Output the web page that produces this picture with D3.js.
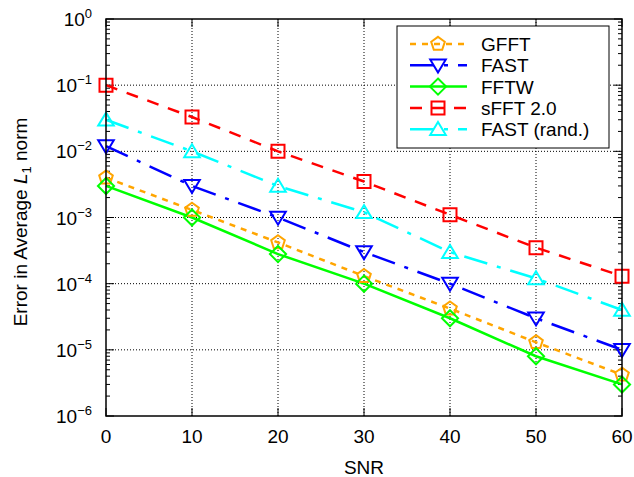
<!DOCTYPE html>
<html>
<head>
<meta charset="utf-8">
<script src="https://cdn.jsdelivr.net/npm/d3@7"></script>
<style>
  body { margin: 0; background: #fff; }
  svg { font-family: "Liberation Sans", sans-serif; }
</style>
</head>
<body>
<svg width="634" height="477"></svg>
<script>
const snr = [0, 10, 20, 30, 40, 50, 60];
const gfft = [4e-3, 1.3e-3, 4.2e-4, 1.3e-4, 4.2e-5, 1.3e-5, 4.2e-6];
const fast = [1.2e-2, 3e-3, 1e-3, 3e-4, 1e-4, 3e-5, 1e-5];
const fftw = [3e-3, 1e-3, 2.8e-4, 1e-4, 3e-5, 8e-6, 3e-6];
const sfft = [1e-1, 3.3e-2, 1e-2, 3.5e-3, 1.1e-3, 3.5e-4, 1.3e-4];
const fastRand = [3e-2, 1e-2, 3e-3, 1.2e-3, 3e-4, 1.2e-4, 4e-5];
const yExponents = [0, -1, -2, -3, -4, -5, -6];

const series = [
  { name: "GFFT", values: gfft, color: "#ffa500", dash: "6,6", marker: "pentagon" },
  { name: "FAST", values: fast, color: "#0000ff", dash: "24,10,4,10", marker: "down" },
  { name: "FFTW", values: fftw, color: "#00ff00", dash: null, marker: "diamond" },
  { name: "sFFT 2.0", values: sfft, color: "#ff0000", dash: "12,10", marker: "square" },
  { name: "FAST (rand.)", values: fastRand, color: "#00ffff", dash: "24,10,4,10", marker: "up" }
];

const svg = d3.select("svg");
const pLeft = 106, pRight = 622, pTop = 19, pBottom = 416;
const fs = 19;

const x = d3.scaleLinear().domain([0, 60]).range([pLeft, pRight]);
const y = d3.scaleLog().domain([1e-6, 1]).range([pBottom, pTop]);

// grid
const grid = svg.append("g").attr("stroke", "#000").attr("stroke-width", 1)
  .attr("stroke-dasharray", "1,2");
snr.slice(1, -1).forEach(v => {
  grid.append("line").attr("x1", x(v)).attr("x2", x(v)).attr("y1", pTop).attr("y2", pBottom);
});
yExponents.slice(1, -1).forEach(e => {
  grid.append("line").attr("x1", pLeft).attr("x2", pRight).attr("y1", y(Math.pow(10, e))).attr("y2", y(Math.pow(10, e)));
});

// ticks
const ticks = svg.append("g").attr("stroke", "#000").attr("stroke-width", 1);
snr.forEach(v => {
  ticks.append("line").attr("x1", x(v)).attr("x2", x(v)).attr("y1", pBottom).attr("y2", pBottom - 8);
  ticks.append("line").attr("x1", x(v)).attr("x2", x(v)).attr("y1", pTop).attr("y2", pTop + 8);
});
yExponents.forEach(e => {
  const yy = y(Math.pow(10, e));
  ticks.append("line").attr("x1", pLeft).attr("x2", pLeft + 8).attr("y1", yy).attr("y2", yy);
  ticks.append("line").attr("x1", pRight).attr("x2", pRight - 8).attr("y1", yy).attr("y2", yy);
  if (e > -6) {
    for (let m = 2; m < 10; m++) {
      const ym = y(m * Math.pow(10, e - 1));
      ticks.append("line").attr("x1", pLeft).attr("x2", pLeft + 4).attr("y1", ym).attr("y2", ym);
      ticks.append("line").attr("x1", pRight).attr("x2", pRight - 4).attr("y1", ym).attr("y2", ym);
    }
  }
});

// tick labels
svg.append("g").selectAll("text").data(snr).join("text")
  .attr("x", d => x(d)).attr("y", 443)
  .attr("text-anchor", "middle").attr("font-size", fs)
  .text(d => d);

const yl = svg.append("g").selectAll("text").data(yExponents).join("text")
  .attr("x", 92).attr("y", d => y(Math.pow(10, d)) + 7)
  .attr("text-anchor", "end").attr("font-size", fs);
yl.append("tspan").text("10");
yl.append("tspan").attr("dy", -8).attr("font-size", 13)
  .text(d => d === 0 ? "0" : "\u2212" + (-d));

// axis titles
svg.append("text").attr("x", (pLeft + pRight) / 2).attr("y", 474)
  .attr("text-anchor", "middle").attr("font-size", fs).text("SNR");

const yt = svg.append("text").attr("transform", "translate(27,222) rotate(-90)")
  .attr("text-anchor", "middle").attr("font-size", fs);
yt.append("tspan").text("Error in Average ");
yt.append("tspan").attr("font-style", "italic").text("L");
yt.append("tspan").attr("font-size", 13).attr("dy", 4).text("1");
yt.append("tspan").attr("dy", -4).text(" norm");

function markerPath(type, s) {
  if (type === "square") return d3.symbol(d3.symbolSquare, s * s)();
  if (type === "diamond") return `M0,${-s * 0.62}L${s * 0.62},0L0,${s * 0.62}L${-s * 0.62},0Z`;
  if (type === "up") return `M0,${-s * 0.55}L${s * 0.6},${s * 0.45}L${-s * 0.6},${s * 0.45}Z`;
  if (type === "down") return `M0,${s * 0.55}L${s * 0.6},${-s * 0.45}L${-s * 0.6},${-s * 0.45}Z`;
  if (type === "pentagon") {
    const r = s * 0.55;
    const pts = d3.range(5).map(i => {
      const a = -Math.PI / 2 + i * 2 * Math.PI / 5;
      return [r * Math.cos(a), r * Math.sin(a)];
    });
    return "M" + pts.join("L") + "Z";
  }
}

const line = d3.line().x((d, i) => x(snr[i])).y(d => y(d));

const plot = svg.append("g");
series.forEach(s => {
  plot.append("path").attr("d", line(s.values)).attr("fill", "none")
    .attr("stroke", s.color).attr("stroke-width", 2.5)
    .attr("stroke-dasharray", s.dash);
});
series.forEach(s => {
  plot.append("g").selectAll("path").data(s.values).join("path")
    .attr("transform", (d, i) => `translate(${x(snr[i])},${y(d)})`)
    .attr("d", markerPath(s.marker, 13))
    .attr("fill", "none").attr("stroke", s.color).attr("stroke-width", 2);
});

// frame
svg.append("rect").attr("x", pLeft).attr("y", pTop).attr("width", pRight - pLeft).attr("height", pBottom - pTop)
  .attr("fill", "none").attr("stroke", "#000").attr("stroke-width", 1.5);

// legend
const lg = svg.append("g");
lg.append("rect").attr("x", 397).attr("y", 26).attr("width", 212).attr("height", 122)
  .attr("fill", "#fff").attr("stroke", "#000").attr("stroke-width", 1);
series.forEach((s, i) => {
  const ly = 44 + i * 21.3;
  lg.append("line").attr("x1", 410).attr("x2", 467).attr("y1", ly).attr("y2", ly)
    .attr("stroke", s.color).attr("stroke-width", 2.5).attr("stroke-dasharray", s.dash);
  lg.append("path").attr("transform", `translate(438,${ly})`).attr("d", markerPath(s.marker, 13))
    .attr("fill", "none").attr("stroke", s.color).attr("stroke-width", 2);
  lg.append("text").attr("x", 481).attr("y", ly + 7).attr("font-size", fs).text(s.name);
});
</script>
</body>
</html>
